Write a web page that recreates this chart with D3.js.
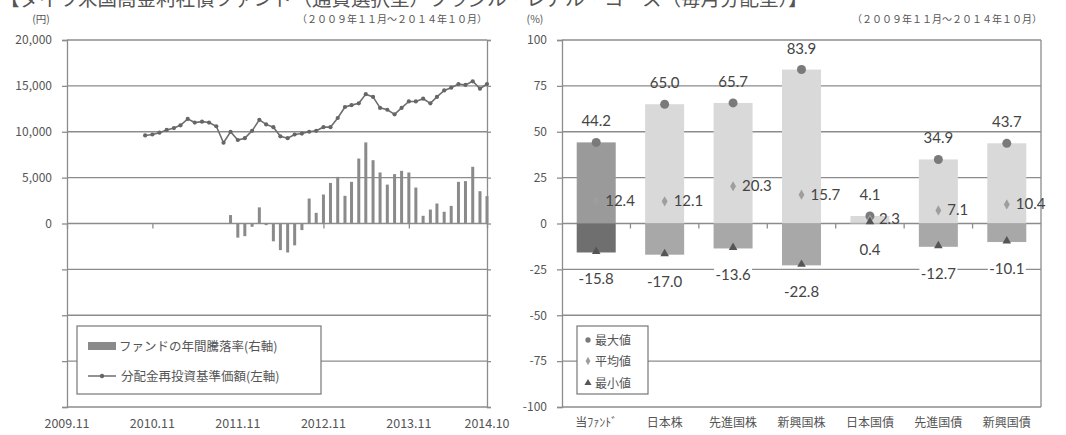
<!DOCTYPE html>
<html>
<head>
<meta charset="utf-8">
<script src="https://cdn.jsdelivr.net/npm/d3@7"></script>
<style>
  body { margin: 0; background: #fff; }
  svg { display: block; }
</style>
</head>
<body>
<div id="chart"></div>
<script>
const title = "【ダイワ米国高金利社債ファンド（通貨選択型）ブラジル・レアル・コース（毎月分配型）】";
const periodLabel = "（２００９年１１月～２０１４年１０月）";

// left chart: monthly NAV (from 2010.10) and 1-year return (from 2011.10)
const navStart = "2010-10";
const navValues = [
  9600, 9700, 9900, 10200, 10400, 10700, 11400, 11000, 11100, 11000,
  10600, 8800, 10000, 9100, 9300, 10100, 11300, 10800, 10500, 9500,
  9300, 9700, 9800, 10000, 10100, 10500, 10500, 11500, 12700, 12900,
  13100, 14100, 13800, 12600, 12400, 11900, 12600, 13300, 13300, 13600,
  13100, 13800, 14500, 14800, 15200, 15100, 15500, 14700, 15200
];
const returnStart = "2011-10";
const returnValues = [
  4.6, -7.7, -6.9, -1.8, 8.8, -0.9, -9.7, -14.5, -15.8, -11.9, -3.6,
  13.6, 5.8, 15.8, 22.1, 25.4, 15.1, 22.7, 35.4, 44.2, 34.5, 27.8, 21.2,
  26.9, 28.7, 27.8, 19.6, 4.2, 7.6, 10.9, 6.4, 9.6, 22.7, 23.1, 30.9, 17.6, 14.9
];
const xTickDates = ["2009-11", "2010-11", "2011-11", "2012-11", "2013-11", "2014-10"];
const xTickLabels = ["2009.11", "2010.11", "2011.11", "2012.11", "2013.11", "2014.10"];
const navTicks = [-20000, -15000, -10000, -5000, 0, 5000, 10000, 15000, 20000];
const rateTicks = [-100, -75, -50, -25, 0, 25, 50, 75, 100];

// right chart: range of 1-year returns by asset class
const categories = ["当ﾌｧﾝﾄﾞ", "日本株", "先進国株", "新興国株", "日本国債", "先進国債", "新興国債"];
const maxValues = [44.2, 65.0, 65.7, 83.9, 4.1, 34.9, 43.7];
const avgValues = [12.4, 12.1, 20.3, 15.7, 2.3, 7.1, 10.4];
const minValues = [-15.8, -17.0, -13.6, -22.8, 0.4, -12.7, -10.1];

const W = 1066, H = 435;
const jp = "'Noto Sans CJK JP', 'Noto Sans', sans-serif";
const num = "Lato, 'Noto Sans', sans-serif";
const gridColor = "#8c8c8c";
const textColor = "#555";

const svg = d3.select("#chart").append("svg")
  .attr("width", W)
  .attr("height", H)
  .style("background", "white");

// title, its top half is cut off in the original
svg.append("text")
  .attr("x", 0)
  .attr("y", 6)
  .attr("font-family", jp)
  .attr("font-size", "19.5px")
  .attr("fill", "#555")
  .text(title);

function styleAxis(g) {
  g.select(".domain").attr("stroke", gridColor).attr("stroke-width", 1.3);
  g.selectAll(".tick line").attr("stroke", gridColor).attr("stroke-width", 1.3);
  g.selectAll(".tick text").attr("fill", textColor).attr("font-family", jp).attr("font-size", "12px");
}

function drawTrendChart() {
  const box = { left: 67, right: 487, top: 40, bottom: 407 };
  const parse = d3.utcParse("%Y-%m");

  const x = d3.scaleUtc()
    .domain([parse("2009-11"), parse("2014-10")])
    .range([box.left, box.right]);
  const yNav = d3.scaleLinear().domain([-20000, 20000]).range([box.bottom, box.top]);
  const yRate = d3.scaleLinear().domain([-100, 100]).range([box.bottom, box.top]);

  const nav = navValues.map((v, i) => ({ date: d3.utcMonth.offset(parse(navStart), i), value: v }));
  const rets = returnValues.map((v, i) => ({ date: d3.utcMonth.offset(parse(returnStart), i), value: v }));

  // gridlines
  svg.append("g").selectAll("line")
    .data(rateTicks)
    .join("line")
      .attr("x1", box.left)
      .attr("x2", box.right)
      .attr("y1", d => yRate(d))
      .attr("y2", d => yRate(d))
      .attr("stroke", gridColor)
      .attr("stroke-width", 1.3);

  // left axis (yen), labels only for the positive half
  svg.append("g")
    .attr("transform", `translate(${box.left},0)`)
    .call(d3.axisLeft(yNav).tickValues(navTicks).tickSize(5).tickPadding(10)
      .tickFormat(d => d >= 0 ? d3.format(",")(d) : ""))
    .call(styleAxis);

  // right axis (%) of the left chart, ticks only
  svg.append("g")
    .attr("transform", `translate(${box.right},0)`)
    .call(d3.axisRight(yRate).tickValues(rateTicks).tickSize(4).tickFormat(""))
    .call(styleAxis);

  // yearly ticks on the zero line
  svg.append("g")
    .attr("transform", `translate(0,${yRate(0)})`)
    .call(d3.axisBottom(x).tickValues(xTickDates.map(parse)).tickSize(5).tickFormat(""))
    .call(g => g.select(".domain").remove())
    .call(styleAxis);

  svg.append("g").selectAll("text")
    .data(xTickDates)
    .join("text")
      .attr("x", d => x(parse(d)))
      .attr("y", 428)
      .attr("text-anchor", "middle")
      .attr("font-family", jp)
      .attr("font-size", "12.5px")
      .attr("fill", textColor)
      .text((d, i) => xTickLabels[i]);

  // annual return bars
  svg.append("g").selectAll("rect")
    .data(rets)
    .join("rect")
      .attr("x", d => x(d.date) - 1.5)
      .attr("y", d => yRate(Math.max(0, d.value)))
      .attr("width", 3)
      .attr("height", d => Math.abs(yRate(d.value) - yRate(0)))
      .attr("fill", "#8a8a8a");

  // NAV line
  const line = d3.line()
    .x(d => x(d.date))
    .y(d => yNav(d.value));

  svg.append("path")
    .datum(nav)
    .attr("d", line)
    .attr("fill", "none")
    .attr("stroke", "#6e6e6e")
    .attr("stroke-width", 1.6);

  svg.append("g").selectAll("circle")
    .data(nav)
    .join("circle")
      .attr("cx", d => x(d.date))
      .attr("cy", d => yNav(d.value))
      .attr("r", 2.1)
      .attr("fill", "#666");

  // units
  svg.append("text")
    .attr("x", 41).attr("y", 22.5)
    .attr("text-anchor", "middle")
    .attr("font-family", jp).attr("font-size", "10.5px").attr("fill", textColor)
    .text("(円)");
  svg.append("text")
    .attr("x", 487).attr("y", 22.5)
    .attr("text-anchor", "end")
    .attr("font-family", jp).attr("font-size", "10px").attr("fill", textColor)
    .text(periodLabel);

  // legend
  const lg = svg.append("g");
  lg.append("rect")
    .attr("x", 77).attr("y", 326).attr("width", 244).attr("height", 68)
    .attr("fill", "white").attr("stroke", "#777").attr("stroke-width", 1.2);
  lg.append("rect")
    .attr("x", 88).attr("y", 342).attr("width", 28).attr("height", 8)
    .attr("fill", "#8a8a8a");
  lg.append("text")
    .attr("x", 119).attr("y", 351)
    .attr("font-family", jp).attr("font-size", "12.5px").attr("fill", textColor)
    .text("ファンドの年間騰落率(右軸)");
  lg.append("line")
    .attr("x1", 88).attr("x2", 116).attr("y1", 376).attr("y2", 376)
    .attr("stroke", "#6e6e6e").attr("stroke-width", 1.5);
  lg.append("circle")
    .attr("cx", 102).attr("cy", 376).attr("r", 2.2).attr("fill", "#666");
  lg.append("text")
    .attr("x", 121).attr("y", 381)
    .attr("font-family", jp).attr("font-size", "12.5px").attr("fill", textColor)
    .text("分配金再投資基準価額(左軸)");
}

function drawRangeChart() {
  const box = { left: 562, right: 1041, top: 40, bottom: 407 };

  const x = d3.scaleBand()
    .domain(categories)
    .range([box.left, box.right])
    .paddingInner(0.43)
    .paddingOuter(0.215);
  const y = d3.scaleLinear().domain([-100, 100]).range([box.bottom, box.top]);

  const data = categories.map((c, i) => ({
    cat: c, max: maxValues[i], avg: avgValues[i], min: minValues[i], own: i === 0
  }));

  svg.append("g").selectAll("line")
    .data(rateTicks)
    .join("line")
      .attr("x1", box.left)
      .attr("x2", box.right)
      .attr("y1", d => y(d))
      .attr("y2", d => y(d))
      .attr("stroke", gridColor)
      .attr("stroke-width", 1.3);

  svg.append("g")
    .attr("transform", `translate(${box.left},0)`)
    .call(d3.axisLeft(y).tickValues(rateTicks).tickSize(5).tickPadding(10).tickFormat(d => String(d)))
    .call(styleAxis);

  svg.append("line")
    .attr("x1", box.right).attr("x2", box.right)
    .attr("y1", box.top).attr("y2", box.bottom)
    .attr("stroke", gridColor).attr("stroke-width", 1.3);

  // category separators on the zero line
  svg.append("g").selectAll("line")
    .data(categories.slice(1))
    .join("line")
      .attr("x1", d => x(d) - x.step() * x.paddingInner() / 2)
      .attr("x2", d => x(d) - x.step() * x.paddingInner() / 2)
      .attr("y1", y(0))
      .attr("y2", y(0) + 5)
      .attr("stroke", gridColor)
      .attr("stroke-width", 1.3);

  svg.append("g").selectAll("text")
    .data(categories)
    .join("text")
      .attr("x", d => x(d) + x.bandwidth() / 2)
      .attr("y", 427)
      .attr("text-anchor", "middle")
      .attr("font-family", jp)
      .attr("font-size", "12px")
      .attr("fill", textColor)
      .text(d => d);

  // max part of the range
  svg.append("g").selectAll("rect")
    .data(data)
    .join("rect")
      .attr("x", d => x(d.cat))
      .attr("y", d => y(d.max))
      .attr("width", x.bandwidth())
      .attr("height", d => y(0) - y(d.max))
      .attr("fill", d => d.own ? "#9a9a9a" : "#d9d9d9");

  // min part of the range
  svg.append("g").selectAll("rect")
    .data(data)
    .join("rect")
      .attr("x", d => x(d.cat))
      .attr("y", d => y(Math.max(0, d.min)))
      .attr("width", x.bandwidth())
      .attr("height", d => Math.abs(y(d.min) - y(0)))
      .attr("fill", d => d.own ? "#6f6f6f" : "#a8a8a8");

  const cx = d => x(d.cat) + x.bandwidth() / 2;

  // markers
  svg.append("g").selectAll("circle")
    .data(data)
    .join("circle")
      .attr("cx", cx)
      .attr("cy", d => y(d.max))
      .attr("r", 4.5)
      .attr("fill", "#7a7a7a");

  svg.append("g").selectAll("path")
    .data(data)
    .join("path")
      .attr("transform", d => `translate(${cx(d)},${y(d.avg)})`)
      .attr("d", d3.symbol(d3.symbolDiamond, 30))
      .attr("fill", "#9e9e9e");

  svg.append("g").selectAll("path")
    .data(data)
    .join("path")
      .attr("transform", d => `translate(${cx(d)},${y(d.min) - 1})`)
      .attr("d", d3.symbol(d3.symbolTriangle, 32))
      .attr("fill", "#555");

  // value labels
  const fmt = v => v.toFixed(1);

  svg.append("g").selectAll("text")
    .data(data)
    .join("text")
      .attr("x", cx)
      .attr("y", d => y(d.max) - 16)
      .attr("text-anchor", "middle")
      .attr("font-family", num)
      .attr("font-size", "15px")
      .attr("fill", "#444")
      .text(d => fmt(d.max));

  svg.append("g").selectAll("text")
    .data(data)
    .join("text")
      .attr("x", d => cx(d) + 9)
      .attr("y", d => y(d.avg) + 5)
      .attr("font-family", num)
      .attr("font-size", "15px")
      .attr("fill", "#444")
      .text(d => fmt(d.avg));

  const minLabels = svg.append("g").selectAll("g")
    .data(data)
    .join("g")
      .attr("transform", d => `translate(${cx(d)},${y(d.min) + 32})`);
  minLabels.append("rect")
    .attr("x", -19).attr("y", -14).attr("width", 38).attr("height", 17)
    .attr("fill", "white");
  minLabels.append("text")
    .attr("text-anchor", "middle")
    .attr("font-family", num)
    .attr("font-size", "15px")
    .attr("fill", "#444")
    .text(d => fmt(d.min));

  // units
  svg.append("text")
    .attr("x", 535).attr("y", 22.5)
    .attr("text-anchor", "middle")
    .attr("font-family", jp).attr("font-size", "10.5px").attr("fill", textColor)
    .text("(%)");
  svg.append("text")
    .attr("x", 1042).attr("y", 22.5)
    .attr("text-anchor", "end")
    .attr("font-family", jp).attr("font-size", "10px").attr("fill", textColor)
    .text(periodLabel);

  // legend
  const lg = svg.append("g");
  lg.append("rect")
    .attr("x", 577).attr("y", 326).attr("width", 71).attr("height", 68)
    .attr("fill", "white").attr("stroke", "#777").attr("stroke-width", 1.2);
  const items = [
    { label: "最大値", sym: d3.symbolCircle, size: 22, color: "#7a7a7a", y: 340 },
    { label: "平均値", sym: d3.symbolDiamond, size: 20, color: "#9e9e9e", y: 361 },
    { label: "最小値", sym: d3.symbolTriangle, size: 22, color: "#555", y: 383 }
  ];
  lg.selectAll("path")
    .data(items)
    .join("path")
      .attr("transform", d => `translate(588,${d.y})`)
      .attr("d", d => d3.symbol(d.sym, d.size)())
      .attr("fill", d => d.color);
  lg.selectAll("text")
    .data(items)
    .join("text")
      .attr("x", 595)
      .attr("y", d => d.y + 4.5)
      .attr("font-family", jp)
      .attr("font-size", "12px")
      .attr("fill", textColor)
      .text(d => d.label);
}

drawTrendChart();
drawRangeChart();
</script>
</body>
</html>
